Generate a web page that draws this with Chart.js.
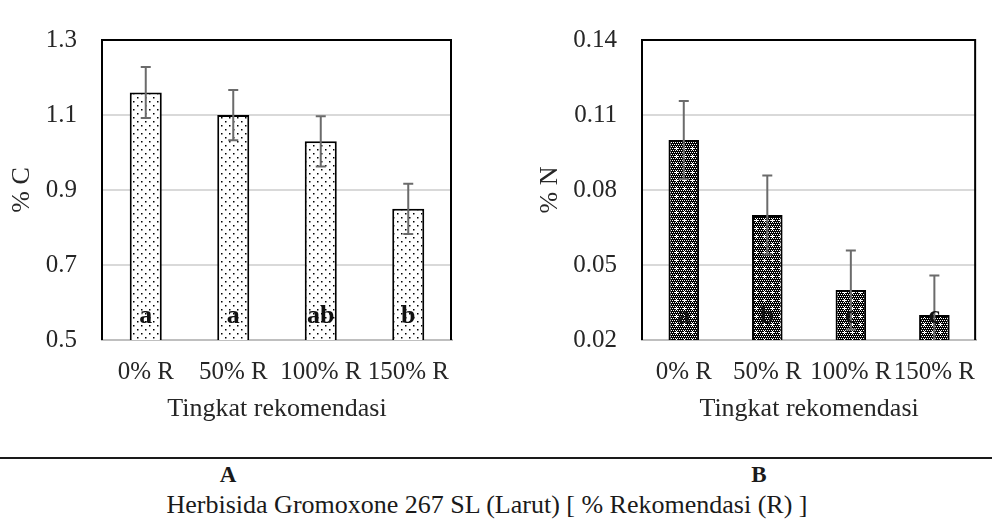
<!DOCTYPE html>
<html>
<head>
<meta charset="utf-8">
<script src="https://cdn.jsdelivr.net/npm/chart.js@4.4.0/dist/chart.umd.min.js"></script>
<style>
  body { margin: 0; background: #fff; width: 992px; height: 522px; overflow: hidden; position: relative; font-family: "Liberation Serif", "Times New Roman", "DejaVu Serif", serif; color: #1a1a1a; }
  .box { position: absolute; top: 0; height: 440px; }
  #boxA { left: 0; width: 470px; }
  #boxB { left: 528px; width: 464px; }
  .rule { position: absolute; left: 0; top: 457px; width: 992px; border-top: 2px solid #1a1a1a; }
  .panel { position: absolute; top: 462px; font-weight: bold; font-size: 23px; line-height: 26px; transform: translateX(-50%); }
  .caption { position: absolute; top: 490px; left: 487px; transform: translateX(-50%); font-size: 26px; line-height: 30px; white-space: nowrap; }
</style>
</head>
<body>
<div class="box" id="boxA"><canvas id="chartC" width="470" height="440"></canvas></div>
<div class="box" id="boxB"><canvas id="chartN" width="464" height="440"></canvas></div>
<div class="rule"></div>
<div class="panel" style="left:228px">A</div>
<div class="panel" style="left:759px">B</div>
<div class="caption">Herbisida Gromoxone 267 SL (Larut) [ % Rekomendasi (R) ]</div>
<script>
const categories = ['0% R', '50% R', '100% R', '150% R'];

const carbonValues = [1.16, 1.10, 1.03, 0.85];
const carbonErrors = [0.068, 0.067, 0.067, 0.067];
const carbonLetters = ['a', 'a', 'ab', 'b'];
const carbonTicks = [0.5, 0.7, 0.9, 1.1, 1.3];

const nitrogenValues = [0.100, 0.070, 0.040, 0.030];
const nitrogenErrors = [0.0156, 0.0158, 0.0158, 0.0158];
const nitrogenLetters = ['a', 'b', 'c', 'c'];
const nitrogenTicks = [0.02, 0.05, 0.08, 0.11, 0.14];

const FONT = '"Liberation Serif", "Times New Roman", "DejaVu Serif", serif';
const TEXT = '#262626';

function makePattern(draw) {
  const c = document.createElement('canvas');
  c.width = 8;
  c.height = 8;
  const g = c.getContext('2d');
  draw(g);
  return g.createPattern(c, 'repeat');
}

// white with sparse staggered dots
const dotPattern = makePattern((g) => {
  g.fillStyle = '#fff';
  g.fillRect(0, 0, 8, 8);
  g.fillStyle = '#000';
  g.fillRect(1, 1, 1.5, 1.5);
  g.fillRect(5, 5, 1.5, 1.5);
});

// mostly black weave with white specks
const darkPattern = makePattern((g) => {
  g.fillStyle = '#000';
  g.fillRect(0, 0, 8, 8);
  g.fillStyle = '#fff';
  for (let y = 0; y < 8; y += 2) {
    for (let x = (y / 2) % 2; x < 8; x += 2) g.fillRect(x, y, 1, 1);
  }
  g.fillRect(4, 3, 1, 3);
  g.fillRect(3, 4, 3, 1);
});

const frameAndErrors = {
  id: 'frameAndErrors',
  beforeDatasetsDraw(chart) {
    const { ctx, chartArea: a } = chart;
    ctx.save();
    ctx.strokeStyle = '#000';
    ctx.lineWidth = 2;
    ctx.beginPath();
    ctx.moveTo(a.left, a.bottom);
    ctx.lineTo(a.left, a.top);
    ctx.lineTo(a.right - 1, a.top);
    ctx.lineTo(a.right - 1, a.bottom);
    ctx.stroke();
    ctx.restore();
  },
  afterDatasetsDraw(chart, args, opts) {
    const { ctx, chartArea: a } = chart;
    const yScale = chart.scales.y;
    const values = chart.data.datasets[0].data;
    const bars = chart.getDatasetMeta(0).data;
    ctx.save();
    ctx.beginPath();
    ctx.rect(a.left, a.top, a.width, a.height);
    ctx.clip();
    ctx.strokeStyle = '#6b6b6b';
    ctx.lineWidth = 2;
    bars.forEach((bar, i) => {
      const hi = yScale.getPixelForValue(values[i] + opts.errors[i]);
      const lo = yScale.getPixelForValue(values[i] - opts.errors[i]);
      ctx.beginPath();
      ctx.moveTo(bar.x, hi);
      ctx.lineTo(bar.x, lo);
      ctx.moveTo(bar.x - 5, hi);
      ctx.lineTo(bar.x + 5, hi);
      ctx.moveTo(bar.x - 5, lo);
      ctx.lineTo(bar.x + 5, lo);
      ctx.stroke();
    });
    ctx.fillStyle = '#111';
    ctx.font = 'bold 26px ' + FONT;
    ctx.textAlign = 'center';
    ctx.textBaseline = 'middle';
    bars.forEach((bar, i) => {
      ctx.fillText(opts.letters[i], bar.x, a.bottom - 24);
    });
    ctx.restore();
  },
};

function buildChart(canvas, values, errors, letters, ticks, decimals, pattern, yTitle, axisWidth, rightPad) {
  return new Chart(canvas, {
    type: 'bar',
    data: {
      labels: categories,
      datasets: [{
        data: values,
        backgroundColor: pattern,
        borderColor: '#000',
        borderWidth: 2,
        borderSkipped: false,
        categoryPercentage: 1,
        barPercentage: 0.366,
      }],
    },
    options: {
      responsive: false,
      animation: false,
      layout: { padding: { top: 20, right: rightPad, bottom: 0, left: 0 } },
      plugins: {
        legend: { display: false },
        tooltip: { enabled: false },
        frameAndErrors: { errors, letters },
      },
      scales: {
        x: {
          grid: { display: false, drawTicks: false },
          border: { color: '#bfbfbf', width: 2 },
          ticks: { color: TEXT, font: { family: FONT, size: 25 }, padding: 17, maxRotation: 0, autoSkip: false },
          title: { display: true, text: 'Tingkat rekomendasi', color: TEXT, font: { family: FONT, size: 26 }, padding: { top: 0, bottom: 15 } },
          afterFit(scale) { scale.height = 100; },
        },
        y: {
          min: ticks[0],
          max: ticks[ticks.length - 1],
          afterBuildTicks(scale) { scale.ticks = ticks.map((v) => ({ value: v })); },
          grid: { color: '#d9d9d9', lineWidth: 2, drawTicks: false },
          border: { display: false },
          ticks: {
            color: TEXT,
            font: { family: FONT, size: 25 },
            padding: 25,
            callback(value) { return Number(value).toFixed(decimals); },
          },
          title: { display: true, text: yTitle, color: TEXT, font: { family: FONT, size: 26 }, padding: { top: 7, bottom: 0 } },
          afterFit(scale) { scale.width = axisWidth; },
        },
      },
    },
    plugins: [frameAndErrors],
  });
}

buildChart(document.getElementById('chartC'), carbonValues, carbonErrors, carbonLetters, carbonTicks, 1, dotPattern, '% C', 102, 18);
buildChart(document.getElementById('chartN'), nitrogenValues, nitrogenErrors, nitrogenLetters, nitrogenTicks, 2, darkPattern, '% N', 114, 0);
</script>
</body>
</html>
